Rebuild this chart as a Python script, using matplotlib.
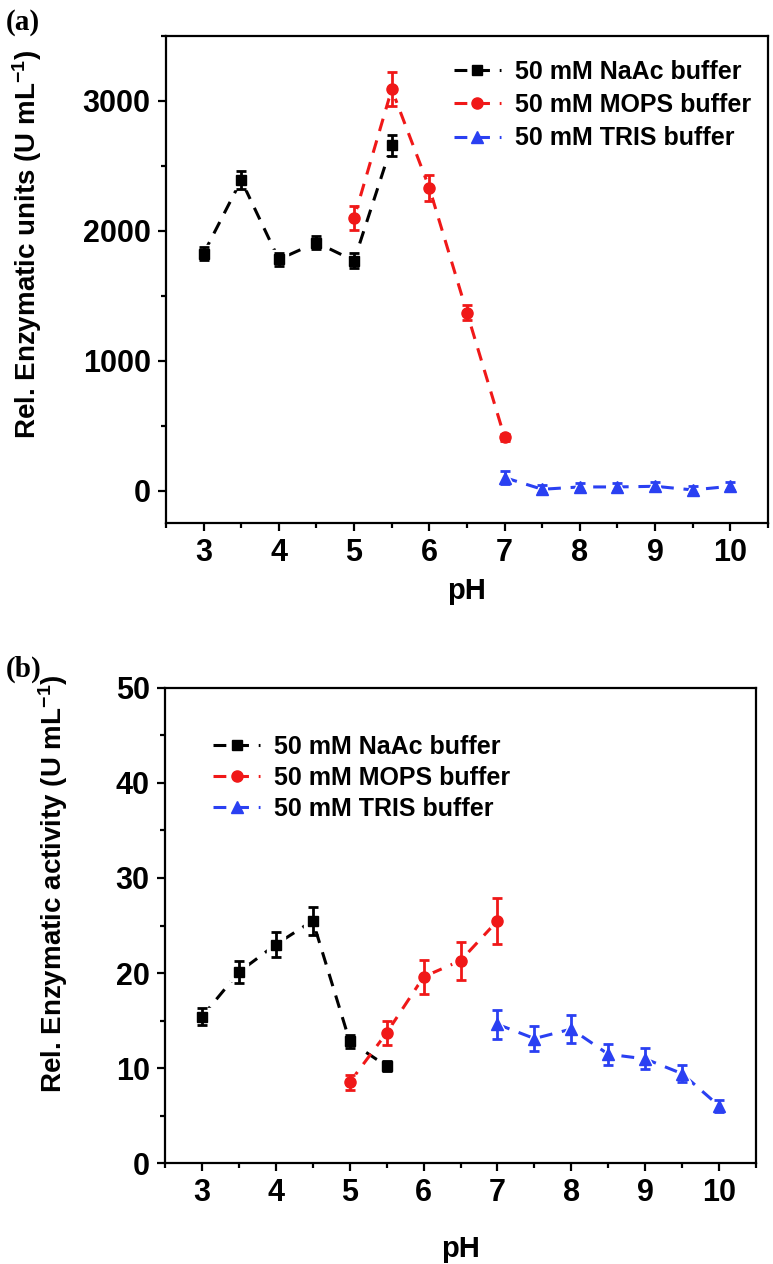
import matplotlib
matplotlib.use('Agg')
import matplotlib.pyplot as plt
from matplotlib.ticker import MultipleLocator
from matplotlib.lines import Line2D

plt.rcParams['font.family'] = ['Liberation Sans', 'DejaVu Sans']
plt.rcParams['font.weight'] = 'bold'
plt.rcParams['mathtext.fontset'] = 'custom'
plt.rcParams['mathtext.rm'] = 'Liberation Sans:bold'
plt.rcParams['mathtext.bf'] = 'Liberation Sans:bold'
plt.rcParams['mathtext.default'] = 'rm'

# ---- data ----
ph_naac = [3, 3.5, 4, 4.5, 5, 5.5]
ph_mops = [5, 5.5, 6, 6.5, 7]
ph_tris = [7, 7.5, 8, 8.5, 9, 9.5, 10]

units_naac = [1825, 2390, 1780, 1910, 1770, 2660]
units_naac_err = [50, 70, 50, 50, 60, 80]
units_mops = [2100, 3090, 2330, 1370, 410]
units_mops_err = [90, 130, 100, 60, 25]
units_tris = [100, 10, 28, 28, 33, 5, 33]
units_tris_err = [50, 30, 30, 30, 30, 30, 30]

act_naac = [15.4, 20.1, 23.0, 25.5, 12.8, 10.2]
act_naac_err = [0.9, 1.2, 1.3, 1.5, 0.7, 0.5]
act_mops = [8.5, 13.7, 19.6, 21.3, 25.5]
act_mops_err = [0.8, 1.25, 1.8, 2.0, 2.4]
act_tris = [14.6, 13.1, 14.1, 11.45, 10.96, 9.4, 6.0]
act_tris_err = [1.5, 1.3, 1.5, 1.1, 1.1, 0.9, 0.6]

series_labels = ['50 mM NaAc buffer', '50 mM MOPS buffer', '50 mM TRIS buffer']
x_ticks = [3, 4, 5, 6, 7, 8, 9, 10]
ya_ticks = [0, 1000, 2000, 3000]
yb_ticks = [0, 10, 20, 30, 40, 50]

BLACK = '#000000'
RED = '#F01818'
BLUE = '#2A40F2'
DASH = (0, (4.2, 3.2))
LW = 2.2
MS = {'s': 7.5, 'o': 8.0, '^': 8.5}

fig = plt.figure(figsize=(7.73, 12.64), dpi=100)
ax_a = fig.add_axes([0.2147, 0.5862, 0.7788, 0.3853])
ax_b = fig.add_axes([0.2135, 0.0799, 0.7646, 0.3758])


def draw(ax, xs, ys, es, color, marker):
    ms = MS[marker]
    ax.plot(xs, ys, ls=DASH, color=color, lw=LW, zorder=1)
    ax.plot(xs, ys, ls='none', marker=marker, ms=ms + 5, color='white',
            mec='white', zorder=2)
    ax.errorbar(xs, ys, yerr=es, fmt=marker, ms=ms, color=color, mec=color,
                ecolor=color, elinewidth=2.0, capsize=3.6, capthick=2.0,
                zorder=3)


def style(ax, yticks, ylim, ylabel, label_xy, minor_y, xlabelpad):
    ax.set_xlim(2.5, 10.5)
    ax.set_ylim(*ylim)
    ax.set_xticks(x_ticks)
    ax.set_yticks(yticks)
    ax.xaxis.set_minor_locator(MultipleLocator(0.5))
    ax.yaxis.set_minor_locator(MultipleLocator(minor_y))
    for s in ax.spines.values():
        s.set_linewidth(1.6)
    ax.tick_params(which='major', direction='out', length=6, width=1.6,
                   labelsize=22, pad=5)
    ax.tick_params(which='minor', direction='out', length=3.5, width=1.6)
    ax.tick_params(top=False, right=False, which='both')
    for t in ax.get_xticklabels() + ax.get_yticklabels():
        t.set_fontweight('bold')
    ax.set_xlabel('pH', fontsize=21, fontweight='bold', labelpad=xlabelpad)
    ax.set_ylabel(ylabel, fontsize=20, fontweight='bold')
    ax.yaxis.set_label_coords(*label_xy)


draw(ax_a, ph_naac, units_naac, units_naac_err, BLACK, 's')
draw(ax_a, ph_mops, units_mops, units_mops_err, RED, 'o')
draw(ax_a, ph_tris, units_tris, units_tris_err, BLUE, '^')

draw(ax_b, ph_naac, act_naac, act_naac_err, BLACK, 's')
draw(ax_b, ph_mops, act_mops, act_mops_err, RED, 'o')
draw(ax_b, ph_tris, act_tris, act_tris_err, BLUE, '^')

style(ax_a, ya_ticks, (-250, 3500),
      r'Rel. Enzymatic units (U mL$^{\mathregular{-1}}$)', (-0.203, 0.573), 500, 6)
style(ax_b, yb_ticks, (0, 50),
      r'Rel. Enzymatic activity (U mL$^{\mathregular{-1}}$)', (-0.160, 0.589), 5, 19)

handles = [
    Line2D([], [], color=c, ls=DASH, lw=LW, marker=m, ms=MS[m])
    for c, m in ((BLACK, 's'), (RED, 'o'), (BLUE, '^'))
]
leg_kw = dict(frameon=False, fontsize=18, handlelength=1.9, handletextpad=0.55,
              borderpad=0, borderaxespad=0, numpoints=1, loc='upper left')
la = ax_a.legend(handles, series_labels, bbox_to_anchor=(0.478, 0.951),
                 labelspacing=0.37, **leg_kw)
lb = ax_b.legend(handles, series_labels, bbox_to_anchor=(0.081, 0.902),
                 labelspacing=0.28, **leg_kw)
for lg in (la, lb):
    for t in lg.get_texts():
        t.set_fontweight('bold')

fig.text(0.008, 0.993, '(a)', fontsize=21, fontweight='bold',
         family=['Liberation Serif', 'DejaVu Serif'], va='top', ha='left')
fig.text(0.008, 0.481, '(b)', fontsize=21, fontweight='bold',
         family=['Liberation Serif', 'DejaVu Serif'], va='top', ha='left')

fig.savefig('out.png', dpi=100)
